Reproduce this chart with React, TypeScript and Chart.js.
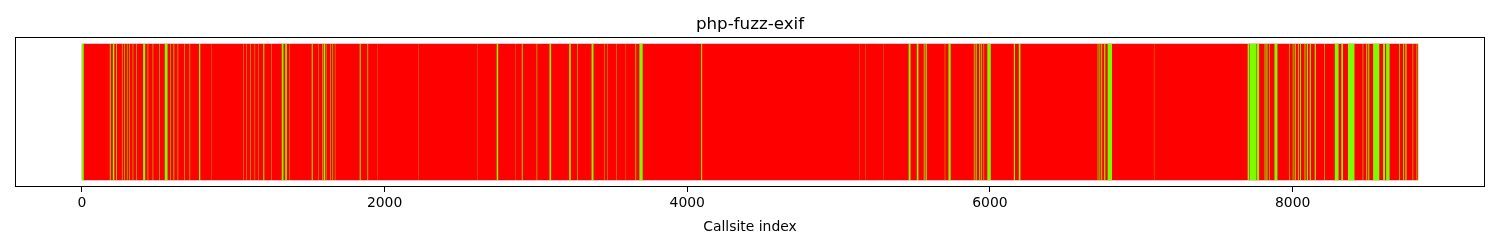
import { useEffect, useRef } from 'react';
import { Chart, registerables } from 'chart.js';

Chart.register(...registerables);

const TITLE = 'php-fuzz-exif';
const X_LABEL = 'Callsite index';
const CALLSITE_COUNT = 8830;
const X_TICKS = [0, 2000, 4000, 6000, 8000];
const RED = '#ff0000';
const GREEN = '#7cfc00';

// callsite index ranges [first, last] drawn green; every other callsite is red
const GREEN_RUNS: [number, number][] = [
  [0, 12], [185, 190], [205, 214], [227, 231], [265, 268], [281, 284], [298, 301], [314, 317],
  [336, 339], [358, 361], [405, 418], [435, 438], [468, 471], [512, 515], [548, 566], [585, 588],
  [606, 610], [633, 636], [677, 680], [712, 715], [774, 782], [857, 858], [1065, 1067], [1087, 1089],
  [1113, 1116], [1142, 1144], [1164, 1166], [1199, 1205], [1252, 1254], [1321, 1332], [1344, 1354],
  [1373, 1375], [1519, 1525], [1562, 1564], [1588, 1591], [1598, 1606], [1612, 1615], [1641, 1644],
  [1656, 1659], [1672, 1674], [1836, 1842], [1887, 1891], [1955, 1956], [2226, 2227], [2611, 2612],
  [2741, 2750], [2865, 2866], [2907, 2912], [3005, 3008], [3090, 3100], [3220, 3230], [3273, 3276],
  [3368, 3380], [3450, 3452], [3472, 3474], [3531, 3533], [3594, 3595], [3658, 3662], [3684, 3705],
  [4092, 4098], [5139, 5140], [5179, 5180], [5296, 5297], [5463, 5475], [5517, 5527], [5563, 5568],
  [5575, 5582], [5702, 5704], [5726, 5740], [5894, 5898], [5906, 5912], [5928, 5932], [5940, 5945],
  [5958, 5961], [5983, 6005], [6158, 6165], [6191, 6201], [6712, 6716], [6724, 6728], [6736, 6741],
  [6755, 6762], [6778, 6806], [7084, 7085], [7703, 7712], [7716, 7760], [7764, 7778], [7815, 7820],
  [7827, 7833], [7845, 7848], [7880, 7899], [7977, 7980], [8001, 8005], [8014, 8020], [8035, 8040],
  [8049, 8054], [8079, 8084], [8094, 8100], [8113, 8120], [8146, 8153], [8210, 8213], [8279, 8303],
  [8322, 8332], [8366, 8408], [8463, 8466], [8487, 8492], [8500, 8506], [8532, 8572], [8598, 8610],
  [8618, 8640], [8705, 8709], [8731, 8736], [8745, 8752], [8793, 8796], [8819, 8823],
];

export default function App() {
  const ref = useRef<HTMLCanvasElement>(null);

  useEffect(() => {
    if (!ref.current) return;
    const half = 0.4;
    const first = -half;
    const last = CALLSITE_COUNT - 1 + half;
    const margin = 0.05 * (last - first);
    const cat = 'callsites';

    const frame = {
      id: 'frame',
      afterDatasetsDraw(chart: any) {
        const { ctx, chartArea: a } = chart;
        ctx.save();
        ctx.strokeStyle = '#000';
        ctx.lineWidth = 1;
        ctx.strokeRect(Math.round(a.left) + 0.5, Math.round(a.top) + 0.5, Math.round(a.right - a.left) - 1, Math.round(a.bottom - a.top) - 1);
        ctx.restore();
      },
    };

    const font = { family: 'DejaVu Sans', size: 13.9, weight: 'normal' as const };

    const chart = new Chart(ref.current, {
      type: 'bar',
      data: {
        labels: [cat],
        datasets: [
          {
            data: [{ x: [first, last], y: cat }] as any,
            backgroundColor: RED,
            grouped: false,
            categoryPercentage: 1,
            barPercentage: 1 / 1.1,
            inflateAmount: 0,
            order: 2,
          } as any,
          {
            data: GREEN_RUNS.map(([s, e]) => ({ x: [s - half, e + half], y: cat })) as any,
            backgroundColor: GREEN,
            grouped: false,
            categoryPercentage: 1,
            barPercentage: 1 / 1.1,
            inflateAmount: 0,
            order: 1,
          } as any,
        ],
      },
      options: {
        indexAxis: 'y',
        animation: false,
        responsive: false,
        events: [],
        layout: { padding: { left: 15, right: 15, top: 0, bottom: 0 } },
        plugins: {
          legend: { display: false },
          tooltip: { enabled: false },
          title: {
            display: true,
            text: TITLE,
            color: '#000',
            font: { family: 'DejaVu Sans', size: 16.7, weight: 'normal' },
            padding: { top: 14.5, bottom: 2.5 },
          },
        },
        scales: {
          y: { type: 'category', display: false },
          x: {
            type: 'linear',
            min: first - margin,
            max: last + margin,
            border: { display: false },
            grid: { display: true, drawOnChartArea: false, drawTicks: true, tickLength: 5, color: '#000', lineWidth: 1 },
            ticks: { color: '#000', font, padding: 3, maxRotation: 0, callback: (v: any) => String(v) },
            afterBuildTicks: (scale: any) => {
              scale.ticks = X_TICKS.map((v) => ({ value: v }));
            },
            afterFit: (scale: any) => {
              scale.height = 63;
            },
            title: {
              display: true,
              text: X_LABEL,
              color: '#000',
              font,
              padding: { top: 4, bottom: 14 },
            },
          } as any,
        },
      },
      plugins: [frame],
    });

    return () => chart.destroy();
  }, []);

  return (
    <div style={{ position: 'absolute', left: 0, top: 0, width: 1500, height: 250, background: '#fff' }}>
      <canvas ref={ref} width={1500} height={250} />
    </div>
  );
}
